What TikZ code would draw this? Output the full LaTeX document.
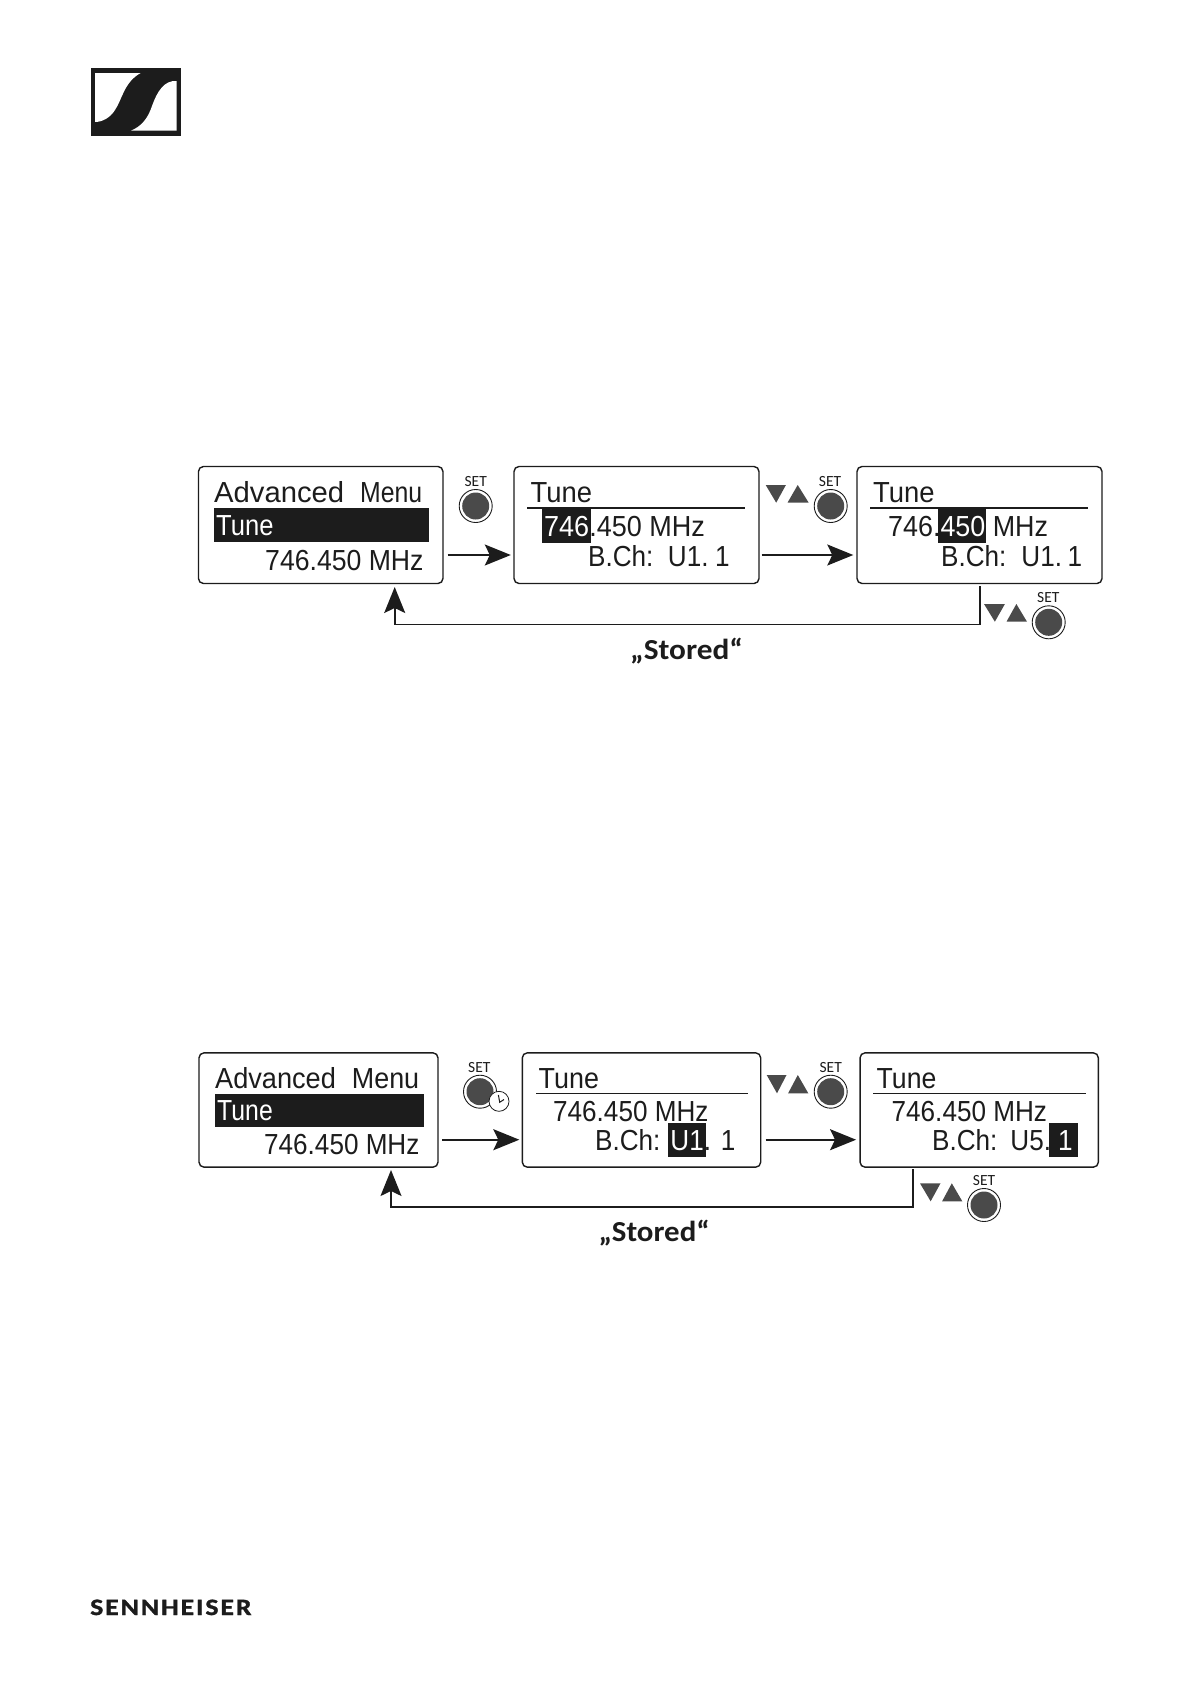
\documentclass[tikz,border=0pt]{standalone}
\usepackage{fontspec}
\usepackage{graphicx}
\usetikzlibrary{arrows.meta}
\setmainfont{Liberation Sans}
\newfontfamily\lcdfont[FakeStretch=0.9]{Liberation Sans}
\newfontfamily\brandfont{Carlito}
\definecolor{ink}{HTML}{1C1C1C}
\definecolor{btn}{HTML}{4A4A4A}
\newcommand\setbutton[5]{% name x y labelx labely
  \node[btnring] (#1) at (#2,#3) {};
  \node[btncore] (#1c) at (#1) {};
  \node[setlabel] (#1l) at (#4,#5) {SET};
}
\newcommand\updown[4]{%
  \fill[btn] (#1,#3) -- ({(#1+#2)/2},#4) -- ({#2-0.8},#3) -- cycle;
}
\newcommand\upward[4]{%
  \fill[btn] ({#1+0.8},#4) -- ({(#1+#2)/2},#3) -- (#2,#4) -- cycle;
}
\tikzset{
  lcdbox/.style={draw=ink,line width=1.4pt,rounded corners=5pt,inner sep=0pt,fill=white},
  lcdtext/.style={inner sep=0pt,anchor=base west,text=ink,font=\lcdfont\fontsize{29}{29}\selectfont},
  bartext/.style={lcdtext,text=white},
  rulerline/.style={draw=ink,line width=1.4pt},
  hilite/.style={fill=ink},
  flow/.style={draw=ink,line width=1.6pt,-{Stealth[length=26pt,width=21pt,inset=5pt]}},
  btnring/.style={circle,draw=ink,line width=0.9pt,minimum size=33pt,inner sep=0pt,fill=white},
  btncore/.style={circle,fill=btn,minimum size=27pt,inner sep=0pt},
  setlabel/.style={inner sep=0pt,text=ink,font=\brandfont\fontsize{15.5}{15.5}\selectfont},
  stored/.style={inner sep=0pt,anchor=base west,text=ink,font=\brandfont\bfseries\fontsize{29}{29}\selectfont},
}
\begin{document}
\begin{tikzpicture}[x=1pt,y=-1pt]
\useasboundingbox (0,0) rectangle (1190,1684);
\fill[white] (0,0) rectangle (1190,1684);

% logo
\fill[ink] (90.7,68) rectangle (181,136);
\fill[white] (95,73) -- (140.7,73) .. controls (124,82) and (122,100) .. (115,110) .. controls (110,118) and (102,122) .. (95,122) -- cycle;
\fill[white] (176.7,81) .. controls (164,80) and (157,92) .. (152,106) .. controls (148,118) and (142,126) .. (131,130.7) -- (176.7,130.7) -- cycle;

% ---------- top diagram ----------
\node[lcdbox,minimum width=244.5pt,minimum height=117pt] (a1) at (320.7,525) {};
\node[lcdbox,minimum width=245pt,minimum height=117pt] (a2) at (636.5,525) {};
\node[lcdbox,minimum width=245pt,minimum height=117pt] (a3) at (979.5,525) {};

\fill[hilite] (214,507.7) rectangle (429,541.7);
\fill[hilite] (542,508) rectangle (591,543);
\fill[hilite] (938,508) rectangle (986,543);
\draw[rulerline] (527,508) -- (745,508);
\draw[rulerline] (870,508) -- (1088,508);

\node[lcdtext] (a1h) at (214,502.5) {\scalebox{1.12}[1]{Advanced}\hspace{16pt}\scalebox{0.95}[1]{Menu}};
\node[bartext] (a1s) at (216,535) {\scalebox{.98}[1]{Tune}};
\node[lcdtext] (a1f) at (265,570) {\scalebox{1.02}[1]{746.450 MHz}};

\node[lcdtext] (a2h) at (530.5,502.5) {\scalebox{1.05}[1]{Tune}};
\node[lcdtext] (a2f) at (544,536) {\scalebox{1.035}[1]{\textcolor{white}{746}.450 MHz}};
\node[lcdtext] (a2c) at (588,566.7) {B.Ch:\hspace{14.5pt}U1.\hspace{6.5pt}1};

\node[lcdtext] (a3h) at (873,502.5) {\scalebox{1.05}[1]{Tune}};
\node[lcdtext] (a3f) at (888,536) {\scalebox{1.03}[1]{746.\textcolor{white}{450} MHz}};
\node[lcdtext] (a3c) at (941,566.7) {B.Ch:\hspace{15pt}U1.\hspace{5.5pt}1};

\setbutton{s1}{475.7}{506}{475.7}{481.7}
\updown{765.7}{786.7}{485}{502.7}
\upward{786.7}{808.7}{485}{502.7}
\setbutton{s2}{830.7}{506}{830}{481.7}
\updown{984}{1005.7}{604}{621.7}
\upward{1005.7}{1027}{604}{621.7}
\setbutton{s3}{1048.7}{622.3}{1048.3}{597.3}

\draw[flow] ([xshift=4pt,yshift=-30pt]a1.east) -- ([xshift=-2.5pt,yshift=-30pt]a2.west);
\draw[flow] ([xshift=2pt,yshift=-30pt]a2.east) -- ([xshift=-3pt,yshift=-30pt]a3.west);
\coordinate (r1s) at (979.7,586);
\coordinate (r1c) at (979.7,624.3);
\coordinate (r1e) at (394.7,587);
\draw[flow] (r1s) -- (r1c) -- (r1e |- r1c) -- (r1e);
\node[stored] (st1) at (630,659.5) {\scalebox{1.08}[1]{„Stored“}};

% ---------- bottom diagram ----------
\node[lcdbox,minimum width=239pt,minimum height=114.3pt] (b1) at (318.5,1110) {};
\node[lcdbox,minimum width=238.4pt,minimum height=114.3pt] (b2) at (641.5,1110) {};
\node[lcdbox,minimum width=238.3pt,minimum height=114.3pt] (b3) at (979.2,1110) {};

\fill[hilite] (215,1093.7) rectangle (424,1126.7);
\fill[hilite] (668,1123) rectangle (706,1157.3);
\fill[hilite] (1049.3,1123) rectangle (1078.3,1157.3);
\draw[rulerline] (536,1093.7) -- (748,1093.7);
\draw[rulerline] (873.3,1093.7) -- (1085.7,1093.7);

\node[lcdtext] (b1h) at (215,1088.5) {\scalebox{1.04}[1]{Advanced}\hspace{16pt}\scalebox{1.03}[1]{Menu}};
\node[bartext] (b1s) at (217,1120.5) {\scalebox{.95}[1]{Tune}};
\node[lcdtext] (b1f) at (264,1154) {746.450 MHz};

\node[lcdtext] (b2h) at (538.5,1088.5) {\scalebox{1.03}[1]{Tune}};
\node[lcdtext] (b2f) at (553,1121) {746.450 MHz};
\node[lcdtext] (b2c) at (595,1150.7) {B.Ch:\hspace{10pt}\textcolor{white}{U1}. 1};

\node[lcdtext] (b3h) at (876.5,1088.5) {\scalebox{1.02}[1]{Tune}};
\node[lcdtext] (b3f) at (891.5,1121) {746.450 MHz};
\node[lcdtext] (b3c) at (932,1150.7) {B.Ch:\hspace{13pt}U5.\hspace{7pt}\textcolor{white}{1}};

\setbutton{t1}{480}{1091.7}{479.3}{1067.3}
\node[circle,draw=ink,line width=0.8pt,fill=white,minimum size=20pt,inner sep=0pt] (clock) at (499,1101.3) {};
\draw[ink,line width=1pt] (498.4,1095) -- (499.7,1102.3) -- (504,1099.5);
\updown{766.7}{787.3}{1075}{1093.3}
\upward{787.3}{808.3}{1075}{1093.3}
\setbutton{t2}{830.7}{1091.7}{830.7}{1067.3}
\updown{920}{941.3}{1183.3}{1201.3}
\upward{941.3}{962.3}{1183.3}{1201.3}
\setbutton{t3}{984}{1205}{984}{1180.7}

\draw[flow] ([xshift=3.7pt,yshift=-29.7pt]b1.east) -- ([xshift=-2.3pt,yshift=-29.7pt]b2.west);
\draw[flow] ([xshift=4.3pt,yshift=-29.7pt]b2.east) -- ([xshift=-3.3pt,yshift=-29.7pt]b3.west);
\coordinate (r2s) at (913,1169.3);
\coordinate (r2c) at (913,1206.7);
\coordinate (r2e) at (391,1170);
\draw[flow] (r2s) -- (r2c) -- (r2e |- r2c) -- (r2e);
\node[stored] (st2) at (598.3,1241) {\scalebox{1.065}[1]{„Stored“}};

% brand
\node[inner sep=0pt,anchor=base west,text=ink,font=\brandfont\bfseries\fontsize{23.5}{23.5}\selectfont\addfontfeature{LetterSpace=7,FakeBold=1.2}] (brand) at (90,1615) {\scalebox{1.18}[1]{SENNHEISER}};
\end{tikzpicture}
\end{document}
